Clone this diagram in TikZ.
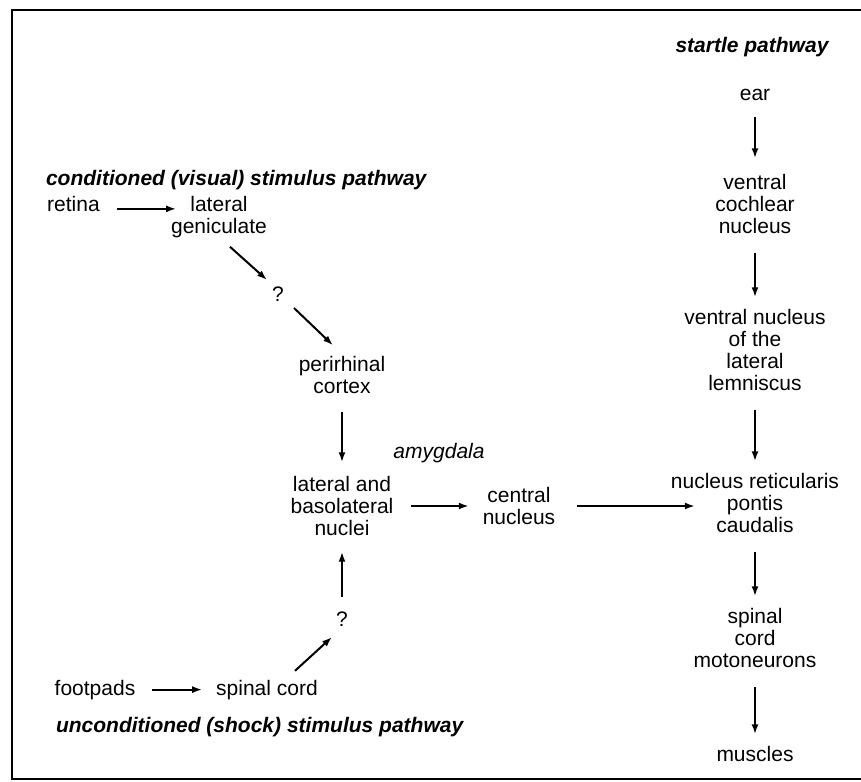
\documentclass[tikz,border=0pt]{standalone}
\usepackage{fontspec}
\setmainfont{Liberation Sans}
\usetikzlibrary{arrows.meta}
\tikzset{->,>={Latex[length=10pt,width=7pt]},node distance=2cm,
  area/.style={inner sep=0pt,align=center,font=\fontsize{21}{22}\selectfont},
  pathway/.style={inner sep=0pt,font=\fontsize{21}{22}\selectfont\bfseries\itshape},
  link/.style={shorten <=18pt,shorten >=11pt}}

\begin{document}
\begin{tikzpicture}[x=1pt,y=-1pt,line width=2pt]
        \useasboundingbox (0,0) rectangle (861,781);
        \draw[-,line width=1.6pt] (861,10) -- (12,10) -- (12,779) -- (861,779);
        % startle pathway
        \node[pathway,anchor=base] (startle) at (752,53) {startle pathway};
        \node[area] (ear) at (755,95) {ear};
        \node[area, below of=ear, node distance=109pt] (vcn) {ventral\\cochlear\\nucleus};
        \node[area, below of=vcn, node distance=146pt] (vnll) {ventral nucleus\\of the\\lateral\\lemniscus};
        \node[area, below of=vnll, node distance=153pt] (nrpc) {nucleus reticularis\\pontis\\caudalis};
        \node[area, below of=nrpc, node distance=135pt] (scm) {spinal\\cord\\motoneurons};
        \node[area, below of=scm, node distance=116pt] (muscles) {muscles};
        % conditioned pathway
        \node[pathway,anchor=base west] (cond) at (45,185) {conditioned (visual) stimulus pathway};
        \node[area] (retina) at (73.5,204) {retina};
        \node[area] (lg) at (219,217) {lateral\\geniculate};
        \node[area] (q1) at (278,294) {?};
        \node[area] (prc) at (342,375) {perirhinal\\cortex};
        \node[area, below of=prc, node distance=131pt] (lbn) {lateral and\\basolateral\\nuclei};
        \node[area, below of=lbn, node distance=113pt] (q2) {?};
        % unconditioned pathway
        \node[area] (spinal) at (267,689.6) {spinal cord};
        \node[area, left of=spinal, node distance=172pt] (footpads) {footpads};
        \node[pathway,anchor=base west] (uncond) at (55,732) {unconditioned (shock) stimulus pathway};
        % amygdala
        \node[area, font=\fontsize{21}{22}\selectfont\itshape] (amyg) at (439,453) {amygdala};
        \node[area, right of=lbn, node distance=177pt] (central) {central\\nucleus};
        \path (ear.south) edge[shorten <=15pt, shorten >=15pt] (vcn.north)
        (vcn.south) edge[link] (vnll.north)
        (vnll.south) edge[link] (nrpc.north)
        (nrpc.south) edge[link] (scm.north)
        (scm.south) edge[link] (muscles.north)
        (retina.mid east) edge[shorten <=16pt, shorten >=-6pt] (retina.mid east -| lg.west)
        ([shift={(11,8)}]lg.south) edge ([shift={(-11,-14)}]q1.center)
        ([shift={(16,14)}]q1.center) edge ([shift={(-9,-10)}]prc.north)
        (prc.south) edge[shorten <=17pt, shorten >=13pt] (lbn.north)
        (q2.north) edge[shorten <=14pt, shorten >=15pt] (lbn.south)
        (footpads.east) edge[shorten <=16pt, shorten >=13pt] (spinal.west)
        ([shift={(28,-8)}]spinal.north) edge ([shift={(-10,18)}]q2.center)
        (lbn) edge[shorten <=17pt, shorten >=13pt] (central)
        (central.east) edge[shorten <=21pt, shorten >=-25pt] (central.east -| nrpc.west);
    \end{tikzpicture}
\end{document}
